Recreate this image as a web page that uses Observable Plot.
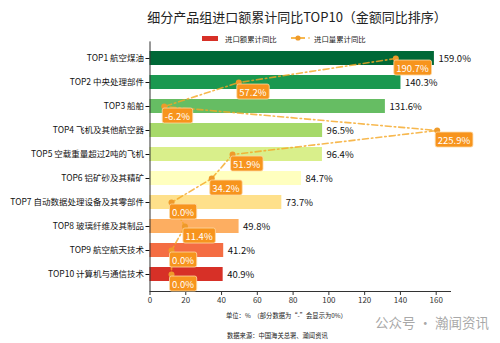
<!DOCTYPE html>
<html><head><meta charset="utf-8">
<script src="https://cdn.jsdelivr.net/npm/d3@7"></script>
<script src="https://cdn.jsdelivr.net/npm/@observablehq/plot@0.6"></script>
<style>
body{margin:0;background:#fff;font-family:"Noto Sans CJK SC","Noto Sans",sans-serif;}
#wrap{position:relative;width:500px;height:343px;overflow:hidden;background:#fff;}
#wrap svg.plot{position:absolute;left:0;top:0;}
.t{position:absolute;white-space:nowrap;color:#111;line-height:1;}
</style></head><body>
<div id="wrap">
  <div class="t" id="title" style="left:0;width:594px;text-align:center;top:10px;font-size:13px;color:#222;">细分产品组进口额累计同比TOP10（金额同比排序）</div>
  <div id="legend"></div>
  <div class="t" style="left:226px;top:312.5px;font-size:6.3px;color:#222;">单位：%&nbsp;&nbsp;（部分数据为“-”会显示为0%）</div>
  <div class="t" style="left:227px;top:332.5px;font-size:6.3px;color:#222;">数据来源：中国海关总署、瀚闻资讯</div>
  <div class="t" style="left:375px;top:316px;font-size:13.5px;color:rgba(140,140,140,0.75);z-index:5;">公众号 · 瀚闻资讯</div>
</div>
<script>
const categories = ["TOP1 航空煤油","TOP2 中央处理部件","TOP3 船舶","TOP4 飞机及其他航空器","TOP5 空载重量超过2吨的飞机","TOP6 铝矿砂及其精矿","TOP7 自动数据处理设备及其零部件","TOP8 玻璃纤维及其制品","TOP9 航空航天技术","TOP10 计算机与通信技术"];
const valueYoY = [159.0,140.3,131.6,96.5,96.4,84.7,73.7,49.8,41.2,40.9];
const volumeYoY = [190.7,57.2,-6.2,225.9,51.9,34.2,0.0,11.4,0.0,0.0];
const barColors = ["#006837","#1a9850","#66bd63","#a6d96a","#d9ef8b","#ffffbf","#fee08b","#fdae61","#f46d43","#d73027"];
const xTicks = [0,20,40,60,80,100,120,140,160];
const legendLabels = ["进口额累计同比","进口量累计同比"];

const bars = categories.map((c,i)=>({cat:c, v:valueYoY[i], color:barColors[i]}));
const vols = categories.map((c,i)=>({cat:c, v:volumeYoY[i]}));

const common = {
  width:500, height:343,
  marginLeft:149.5, marginRight:50, marginTop:41.4, marginBottom:52,
  style:{fontFamily:'"Noto Sans CJK SC","Noto Sans",sans-serif', background:"transparent", color:"#222"}
};
const yScale = {type:"band", domain:categories, padding:0.4};

const p1 = Plot.plot({
  ...common,
  x:{domain:[0,168]},
  y:yScale,
  color:{type:"identity"},
  marks:[
    Plot.barX(bars,{x:"v", y:"cat", fill:"color"}),
    Plot.text(bars,{x:"v", y:"cat", text:d=>d.v.toFixed(1)+"%", textAnchor:"start", dx:4, fontSize:9.5, fill:"#111"}),
    Plot.ruleX([0],{stroke:"#333"}),
    Plot.frame({anchor:"bottom", stroke:"#333"}),
    Plot.axisY({tickSize:4, tickPadding:2, fontSize:8.5, label:null, color:"#111"}),
    Plot.axisX({ticks:xTicks, tickSize:4, tickPadding:2, fontSize:8, label:null, tickFormat:d=>String(d), color:"#333"})
  ]
});
p1.classList.add("plot");

const p2 = Plot.plot({
  ...common,
  x:{domain:[-18.3,237.2], axis:null},
  y:{...yScale, axis:null},
  marks:[
    Plot.line(vols,{x:"v", y:"cat", stroke:"#f5a623", strokeOpacity:0.8, strokeWidth:1.6, strokeDasharray:"6,3,1.5,3"}),
    Plot.dot(vols,{x:"v", y:"cat", r:3, fill:"#ef9a2a"}),
    Plot.text(vols,{x:"v", y:"cat", text:d=>d.v.toFixed(1)+"%", textAnchor:"start", dx:0.5, dy:10, fontSize:9.5, fill:"white", className:"vlab"})
  ]
});
p2.classList.add("plot");

const wrap = document.getElementById("wrap");
wrap.insertBefore(p1, wrap.firstChild);
wrap.insertBefore(p2, p1.nextSibling);

// label boxes behind the volume labels
const ns = "http://www.w3.org/2000/svg";
p2.querySelectorAll("g.vlab text").forEach(t=>{
  const b = t.getBBox();
  const r = document.createElementNS(ns,"rect");
  r.setAttribute("x", b.x-2.5); r.setAttribute("y", b.y-0.5);
  r.setAttribute("width", b.width+5); r.setAttribute("height", b.height+1);
  r.setAttribute("rx", 2); r.setAttribute("fill", "#f7941d");
  r.setAttribute("stroke", "#fcd9a6"); r.setAttribute("stroke-width", 0.8);
  const tr = t.getAttribute("transform");
  if (tr) r.setAttribute("transform", tr);
  t.parentNode.insertBefore(r, t);
});

// legend
const lg = document.getElementById("legend");
lg.innerHTML = `
<div style="position:absolute;left:202px;top:36px;width:16px;height:5px;background:#d73027;"></div>
<div class="t" style="left:225px;top:34.5px;font-size:7.4px;color:#222;">${legendLabels[0]}</div>
<svg style="position:absolute;left:289px;top:33px;" width="24" height="10">
  <line x1="2" y1="5" x2="16" y2="5" stroke="#f5a623" stroke-width="1.6"/>
  <circle cx="9" cy="5" r="2.6" fill="#ef9a2a"/>
  <circle cx="20" cy="5" r="0.8" fill="#f5a623"/>
</svg>
<div class="t" style="left:314px;top:34.5px;font-size:7.4px;color:#222;">${legendLabels[1]}</div>`;
</script>
</body></html>
